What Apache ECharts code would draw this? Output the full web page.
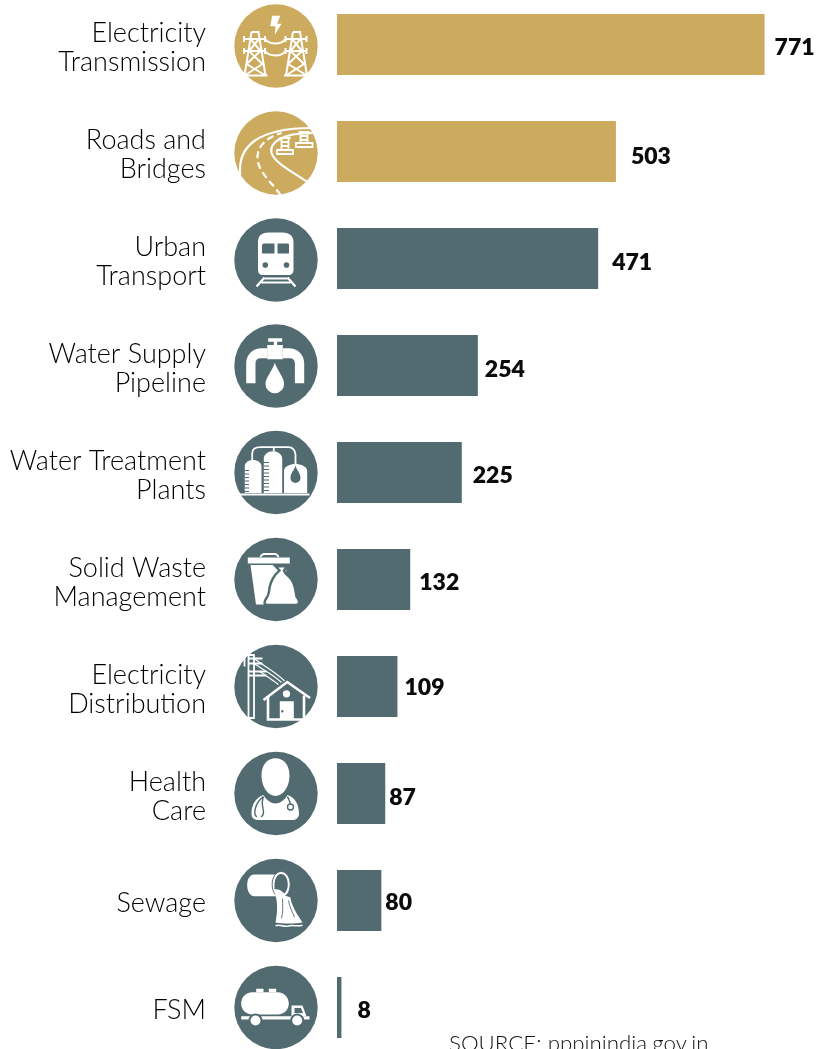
<!DOCTYPE html>
<html>
<head>
<meta charset="utf-8">
<style>html,body{margin:0;padding:0;background:#fff}#chart{width:825px;height:1049px}</style>
<script src="https://cdn.jsdelivr.net/npm/echarts@6/dist/echarts.min.js"></script>
</head>
<body>
<div id="chart"></div>
<script>
// Infrastructure projects by sector
const categories = ['Electricity\nTransmission','Roads and\nBridges','Urban\nTransport','Water Supply\nPipeline','Water Treatment\nPlants','Solid Waste\nManagement','Electricity\nDistribution','Health\nCare','Sewage','FSM'];
const projects = [771,503,471,254,225,132,109,87,80,8];
const iconKeys = ['tower','road','train','tap','plant','waste','house','doctor','sewage','tanker'];
const sourceNote = 'SOURCE: pppinindia.gov.in';

const GOLD = '#CDAB5E';
const SLATE = '#516B71';
const barColors = [GOLD,GOLD,SLATE,SLATE,SLATE,SLATE,SLATE,SLATE,SLATE,SLATE];
const labelNudgeX = [0,5,4,-3,1,-1,-3,-6,-6,6];
const labelNudgeY = [3,5,4,4,3,3,1,4,2,3];
const iconNudgeY = [1.5,1.5,1.5,0.5,0,0,0,0,0,0];

// Glyph layers in an 84-unit square: w = white fill, d = disc-coloured fill,
// s = white stroke, k = disc-coloured stroke; the last entry is line width.
const icons = {
  tower: [
    ['w','M37.7 11.7H45.7L42.7 19.7H47L40.3 30.7L41 22.3H35.7Z'],
    ['s','M17 28H24L31 71.5M17 28L10 71.5M8 71.5H33M9.5 35H30.5M9.5 47H30.5M9.5 32V38M30.5 32V38M9.5 44V50M30.5 44V50M16 35L26 47M24.5 35L14.5 47M14.5 47L28 60M26 47L12 60M12 60L31 71.5M28 60L10 71.5',2],
    ['s','M58.5 28H65.5L72.5 71.5M58.5 28L51.5 71.5M49.5 71.5H74.5M51 35H72M51 47H72M51 32V38M72 32V38M51 44V50M72 44V50M57.5 35L67.5 47M66 35L56 47M56 47L69.5 60M67.5 47L53.5 60M53.5 60L72.5 71.5M69.5 60L51.5 71.5',2],
    ['s','M30.5 35C35 41 47 41 51 35M30.5 47C35 53 47 53 51 47',2]
  ],
  road: [
    ['s','M5.7 64C3 36 22 17 78 17',2.2],
    ['s','M46 84C38 72 22 60 23 45C24 33 34 26 47 22',2.2,[7,4]],
    ['s','M73 71C60 62 40 52 37 42C35 32 46 22 78 22',2.2],
    ['s','M42.5 39H58.5V43H42.5ZM47 27H54V39H47ZM47 31H54M47 35H54M45 27H56',1.8],
    ['s','M61.5 32H78V36H61.5ZM66 21H73V32H66ZM66 25H73M66 29H73M64 21H75',1.8]
  ],
  train: [
    ['w','M23.5 24C23.5 18 27 14.5 34 14.5H48C55 14.5 59 18 59 24V52C59 55 57 57 54 57H28.5C25.5 57 23.5 55 23.5 52Z'],
    ['d','M29 25.5H40V35.5H27.5V27ZM43 25.5H53C54 25.5 54.5 26 54.5 27V35.5H43Z'],
    ['d','M28 47A2.8 2.8 0 1 0 33.6 47A2.8 2.8 0 1 0 28 47ZM49.2 47A2.8 2.8 0 1 0 54.8 47A2.8 2.8 0 1 0 49.2 47Z'],
    ['s','M30 59.5L22 68.5M53 59.5L61 68.5M27 64.5H56M30 60.5H53',2.2]
  ],
  tap: [
    ['w','M33.7 14.3H47.7V17.7H42.7V21H48.3V35.3H32.7V21H39.3V17.7H33.7Z'],
    ['w','M11.7 59.3V39.3C11.7 30 19 24.3 27 24.3H32.7V34.3H26C23 34.3 21 36 21 39.3V59.3Z'],
    ['w','M69.7 59.3V39.3C69.7 30 62.4 24.3 54.4 24.3H48.3V34.3H55.4C58.4 34.3 60.4 36 60.4 39.3V59.3Z'],
    ['w','M40.3 38.7C38 47 31 53 31 60A9.3 9.3 0 0 0 49.6 60C49.6 53 43 47 40.3 38.7Z']
  ],
  plant: [
    ['s','M5 64H75',1.8],
    ['s','M17.7 30V23C17.7 19 21 16.7 26 16.7H54C58 16.7 61 20 61 24.3V35M39.3 16.7V21',1.8],
    ['w','M10.3 62.5V36C10.3 32 14 29.5 18.5 29.5C23 29.5 27 32 27 36V62.5Z'],
    ['w','M29.3 62.5V28C29.3 24 33.5 20.7 38.5 20.7C43.5 20.7 47.7 24 47.7 28V62.5Z'],
    ['w','M49.5 62.5V41C49.5 37 52 36 55 34.5L61 33L67 34.5C70 36 72.7 37 72.7 41V62.5Z'],
    ['k','M10 40H14.5M10 43.5H14.5M10 47H14.5M10 50.5H14.5M10 54H14.5M10 57.5H14.5M10 61H14.5M29 32H34.5M29 35.5H34.5M29 39H34.5M29 42.5H34.5M29 46H34.5M29 49.5H34.5M29 53H34.5M29 56.5H34.5M29 60H34.5',1.2],
    ['d','M61 35C60 40 56 42 56 47.5A5 5 0 0 0 66 47.5C66 42 62 40 61 35Z']
  ],
  waste: [
    ['w','M13.3 20H55.3V26H13.3Z'],
    ['s','M26 19.5C27 17 28 16.5 30 16.5H40C42 16.5 43 17 44 19.5',1.8],
    ['w','M16 27.5H52L50 60L48 67H21.5Z'],
    ['wk','M41 28.7L52.7 28.7L49.5 33C50 36 54 38 57 42C61 48 61 54 62 59C63.5 61 65 63 64.5 65C64.5 67 63 67.5 61 67.5H33C31 67.5 30 66.5 30 65C30 62 34 60 34.5 54C35 47 38 41 41 37C43 35 44 34 45 33Z',2.4]
  ],
  house: [
    ['s','M14 10.5H19.5V73.5H14ZM10 10.5V22M14 14H28M14 19H28M14 27H32M14 31H32',1.8],
    ['s','M19.5 14C30 22 42 28 50 36.5M19.5 19C30 26 40 31 47 38M25 27C32 31 38 36 44 40',1.2],
    ['s','M29 55.5L52.7 37.5L75.5 53.5',2.6],
    ['s','M33.5 51.5V75H69.5V51',2.6],
    ['w','M45.3 56.7H59.3V75.5H45.3Z'],
    ['d','M46.6 66.7A1.2 1.2 0 1 0 49 66.7A1.2 1.2 0 1 0 46.6 66.7Z'],
    ['w','M48.4 49.3A3.6 3.6 0 1 0 55.6 49.3A3.6 3.6 0 1 0 48.4 49.3Z']
  ],
  doctor: [
    ['w','M27 24C27 13 33 6.7 41 6.7C49 6.7 55 13 55 24C55 36 48 44.5 41 44.5C34 44.5 27 36 27 24Z'],
    ['w','M29 43.5C22 46 17 52 17 62C17 66 19 68.5 24 68.5H58C62 68.5 64.5 66 64.5 62C64.5 52 60 46 53 43.5C50 49 45 52 41 52C37 52 32 49 29 43.5Z'],
    ['k','M29 45C25 48 22 52 20.8 57C20 60 20 65 22.5 65M29 45C27 50 28 55 28.5 57C29.5 60 29 65 26.5 65M53 45C54 48 56 50 56 53',1.4],
    ['k','M53 55.5A3 3 0 1 0 59 55.5A3 3 0 1 0 53 55.5Z',1.4]
  ],
  sewage: [
    ['w','M20 16H44V37.7H20C15 37.7 12.7 32 12.7 26.8C12.7 21 15 16 20 16Z'],
    ['wk','M37.7 26C37.7 18.5 41.5 13 46.7 13C51.8 13 55.7 18.5 55.7 26C55.7 33.5 51.8 39 46.7 39C41.5 39 37.7 33.5 37.7 26Z',1],
    ['d','M40 27C40 20 43 15.5 46.7 15.5C50.4 15.5 53.3 20 53.3 26C53.3 30 52 33 50 35C46 31 43 30 40 31Z'],
    ['w','M39 31C43 31 47 33 50.5 37L56 39C56.5 46 62 55 68 64C60 65.5 48 65.5 41 64C43 54 44 42 39 31Z'],
    ['k','M48 40C48 47 49 53 47 60M54 42C55 49 58 53 60 59',0.9],
    ['s','M41 67.3C46 65.5 49 69 54 67.5C58 66 62 68.5 68 66.8',1.5]
  ],
  tanker: [
    ['w','M21.7 23.3H29V26.7H21.7ZM34.3 23.3H41.7V26.7H34.3Z'],
    ['w','M18 26.7H43C50 26.7 54.3 32 54.3 38C54.3 44 50 49 43 49H18C11 49 6.7 44 6.7 38C6.7 32 11 26.7 18 26.7Z'],
    ['w','M57 40H68L72 50.7H57Z'],
    ['d','M60 42.5H66.5L68.5 47.5H60Z'],
    ['w','M6.7 50.7H75V54H6.7Z'],
    ['wk','M15 55A6 6 0 1 0 27 55A6 6 0 1 0 15 55Z',2],
    ['wk','M56.7 55A6 6 0 1 0 68.7 55A6 6 0 1 0 56.7 55Z',2]
  ]
};

const ICON_BOX = 84;
const CORNERS = 'M0 0h.01M' + ICON_BOX + ' ' + ICON_BOX + 'h.01';

function renderIcon(params, api) {
  const row = api.value(0);
  const color = barColors[row];
  const origin = api.coord([0, row]);
  const left = origin[0] - 102.5;
  const top = origin[1] - 42 + iconNudgeY[row];
  const children = [{
    type: 'circle',
    shape: { cx: left + 41.5, cy: top + 42, r: 41.7 },
    style: { fill: color }
  }];
  const styleFor = (kind, width, dash) => {
    if (kind === 'w') return { fill: '#fff' };
    if (kind === 'd') return { fill: color };
    if (kind === 's') return { fill: 'none', stroke: '#fff', lineWidth: width, lineDash: dash || null };
    if (kind === 'k') return { fill: 'none', stroke: color, lineWidth: width };
    return { fill: '#fff', stroke: color, lineWidth: width };
  };
  icons[iconKeys[row]].forEach(([kind, d, width, dash]) => {
    children.push({
      type: 'path',
      shape: { pathData: CORNERS + d, x: left, y: top, width: ICON_BOX, height: ICON_BOX },
      style: styleFor(kind, width, dash)
    });
  });
  return { type: 'group', children };
}

// A thin blank first line pushes each axis label slightly below the bar's centre.
const labelLines = (text) => '{gap| }\n' + text.split('\n').map(line => '{name|' + line + '}').join('\n');

const chart = echarts.init(document.getElementById('chart'), null, { renderer: 'canvas' });
chart.setOption({
  animation: false,
  backgroundColor: '#fff',
  textStyle: { fontFamily: 'Lato' },
  title: {
    text: sourceNote, left: 449, top: 1033, padding: 0,
    textStyle: { fontFamily: 'Lato', fontWeight: 300, fontSize: 22.3, color: '#111' }
  },
  grid: { left: 337, right: 0, top: -9, bottom: -12, outerBoundsMode: 'none' },
  xAxis: { type: 'value', min: 0, max: 880, show: false },
  yAxis: {
    type: 'category', inverse: true, data: categories,
    axisLine: { show: false }, axisTick: { show: false },
    axisLabel: {
      margin: 131, align: 'right', formatter: labelLines,
      rich: {
        gap: { fontSize: 6, lineHeight: 6, align: 'right' },
        name: { fontFamily: 'Lato', fontWeight: 300, fontSize: 27, lineHeight: 29, color: '#000', align: 'right' }
      }
    }
  },
  series: [
    {
      type: 'bar', barWidth: 61,
      data: projects.map((v, i) => ({
        value: v,
        itemStyle: { color: barColors[i] },
        label: { offset: [labelNudgeX[i], labelNudgeY[i]] }
      })),
      label: {
        show: true, position: 'right', distance: 10,
        fontFamily: 'Lato', fontWeight: 800, fontSize: 23, color: '#0b0b0b'
      }
    },
    {
      type: 'custom', renderItem: renderIcon, silent: true, clip: false,
      encode: { y: 0 }, data: categories.map((c, i) => [i])
    }
  ]
});
</script>
</body>
</html>
